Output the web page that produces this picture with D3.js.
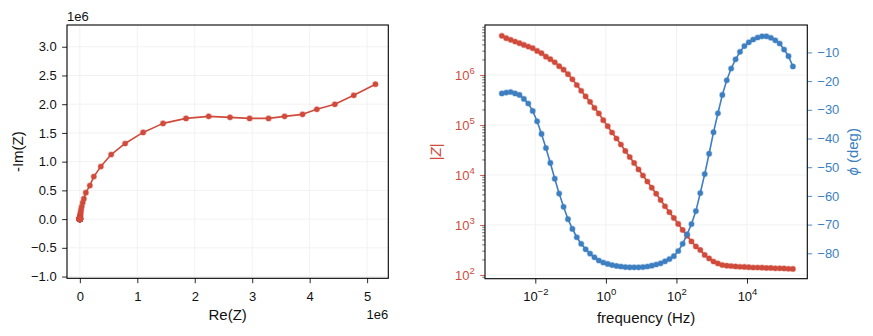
<!DOCTYPE html>
<html>
<head>
<meta charset="utf-8">
<script src="https://cdn.jsdelivr.net/npm/d3@7"></script>
<style>
  body { margin: 0; background: #fff; }
  svg { display: block; }
  text { font-family: "Liberation Sans", Arial, Helvetica, sans-serif; }
</style>
</head>
<body>
<svg id="chart" width="873" height="336"></svg>
<script>
// Measured frequencies (Hz), ascending, 8 points per decade
const frequency = [
  0.001125, 0.0015, 0.002, 0.002667, 0.003557, 0.004743, 0.006325, 0.008434,
  0.01125, 0.015, 0.02, 0.02667, 0.03557, 0.04743, 0.06325, 0.08434,
  0.1125, 0.15, 0.2, 0.2667, 0.3557, 0.4743, 0.6325, 0.8434,
  1.125, 1.5, 2, 2.667, 3.557, 4.743, 6.325, 8.434,
  11.25, 15, 20, 26.67, 35.57, 47.43, 63.25, 84.34,
  112.5, 150, 200, 266.7, 355.7, 474.3, 632.5, 843.4,
  1125, 1500, 2000, 2667, 3557, 4743, 6325, 8434,
  11247, 15000, 20000, 26670, 35566, 47427, 63246, 84339,
  112468, 149979, 200000
];

// |Z| in ohm at each frequency
const impedanceMagnitude = [
  6.07e6, 5.46e6, 5.05e6, 4.67e6, 4.33e6, 4.00e6, 3.70e6, 3.44e6, 3.03e6, 2.73e6,
  2.33e6, 2.07e6, 1.80e6, 1.50e6, 1.28e6, 1.04e6, 8.20e5, 6.30e5, 4.84e5, 3.73e5,
  2.91e5, 2.20e5, 1.70e5, 1.25e5, 9.46e4, 7.08e4, 5.37e4, 4.07e4, 3.02e4, 2.29e4,
  1.74e4, 1.29e4, 9770, 7410, 5560, 4220, 3160, 2370, 1800, 1380,
  1050, 794, 610, 468, 372, 316, 251, 214, 186, 170,
  158, 153, 151, 148, 146, 145, 143, 141, 141, 140,
  138, 138, 136, 136, 135, 133, 132
];

// Phase angle in degrees at each frequency
const phaseDeg = [
  -24.3, -24.0, -23.8, -24.3, -24.8, -26.2, -27.8, -30.4, -34.0, -38.4,
  -43.3, -48.5, -54.0, -59.2, -63.8, -68.1, -71.5, -74.4, -76.7, -78.6,
  -80.1, -81.4, -82.5, -83.2, -83.7, -84.1, -84.4, -84.6, -84.8, -84.9,
  -84.9, -84.9, -84.8, -84.6, -84.3, -83.9, -83.5, -82.8, -82.0, -81.0,
  -79.2, -76.7, -73.4, -69.8, -65.3, -59.0, -52.4, -45.3, -37.8, -31.2,
  -24.8, -19.7, -15.6, -12.4, -9.8, -7.8, -6.5, -5.5, -4.8, -4.4,
  -4.4, -4.9, -5.8, -6.9, -9.0, -11.3, -14.9
];

// Nyquist coordinates (ohm), same frequency order
const realZ = [
  5.145e6, 4.768e6, 4.438e6, 4.125e6, 3.876e6, 3.563e6, 3.285e6, 2.955e6, 2.613e6, 2.242e6,
  1.848e6, 1.448e6, 1.101e6, 7.88e5, 5.45e5, 3.65e5, 2.43e5, 1.74e5, 1.04e5, 7.0e4,
  5.0e4, 3.29e4, 2.22e4, 1.48e4, 1.04e4, 7280, 5240, 3830, 2740, 2040,
  1540, 1150, 886, 697, 552, 448, 358, 297, 250, 216,
  197, 183, 174, 162, 155, 163, 153, 150, 147, 145,
  143, 144, 145, 145, 144, 144, 142, 140, 140, 140,
  138, 137, 135, 135, 133, 130, 128
];
const negImagZ = [
  2.348e6, 2.155e6, 1.998e6, 1.911e6, 1.823e6, 1.788e6, 1.753e6, 1.753e6, 1.771e6, 1.788e6,
  1.753e6, 1.666e6, 1.509e6, 1.316e6, 1.124e6, 9.15e5, 7.40e5, 5.83e5, 4.60e5, 3.55e5,
  2.87e5, 2.18e5, 1.69e5, 1.24e5, 9.40e4, 7.04e4, 5.34e4, 4.05e4, 3.01e4, 2.28e4,
  1.73e4, 1.29e4, 9730, 7380, 5530, 4200, 3140, 2350, 1780, 1360,
  1030, 773, 585, 439, 338, 271, 199, 152, 114, 88,
  66, 52, 41, 32, 25, 20, 16, 14, 12, 11,
  11, 12, 14, 16, 21, 26, 34
];

// Tick values
const nyquistXTicks = [0, 1e6, 2e6, 3e6, 4e6, 5e6];
const nyquistYTicks = [-1.0e6, -0.5e6, 0, 0.5e6, 1.0e6, 1.5e6, 2.0e6, 2.5e6, 3.0e6];
const freqTicks = [1e-2, 1e0, 1e2, 1e4];
const magTicks = [1e2, 1e3, 1e4, 1e5, 1e6];
const phaseTicks = [-80, -70, -60, -50, -40, -30, -20, -10];

const RED = "#d04b3c";
const BLUE = "#3d7fc1";
const GRID = "#efefef";
const TICK_FS = 13;
const LABEL_FS = 15;
const TICK_LEN = 4.9;

const svg = d3.select("#chart");
svg.append("rect").attr("width", 873).attr("height", 336).attr("fill", "#fff");

const supDigits = e => (e < 0 ? "\u2212" + Math.abs(e) : String(e));
function powerLabel(sel, color) {
  sel.each(function(d) {
    const t = d3.select(this);
    const e = Math.round(Math.log10(d));
    t.text(null);
    t.append("tspan").text("10");
    t.append("tspan").attr("dy", -6).attr("font-size", 9.5).text(supDigits(e));
    if (color) t.attr("fill", color);
  });
}

// ---------------- Nyquist panel ----------------
const L = { x0: 67, x1: 388.3, y0: 25, y1: 278.3 };
{
  const w = L.x1 - L.x0, h = L.y1 - L.y0;
  const [rMin, rMax] = d3.extent(realZ);
  const [iMin, iMax] = d3.extent(negImagZ);
  const pad = 0.0435 * (rMax - rMin);
  const xDom = [rMin - pad, rMax + pad];
  const k = w / (xDom[1] - xDom[0]);           // equal aspect: same px per ohm on both axes
  const yc = (iMin + iMax) / 2, half = h / k / 2;
  const x = d3.scaleLinear().domain(xDom).range([L.x0, L.x1]);
  const y = d3.scaleLinear().domain([yc - half, yc + half]).range([L.y1, L.y0]);

  const g = svg.append("g");
  g.append("g").selectAll("line").data(nyquistXTicks).join("line")
    .attr("x1", d => x(d)).attr("x2", d => x(d)).attr("y1", L.y0).attr("y2", L.y1)
    .attr("stroke", GRID).attr("stroke-width", 0.8);
  g.append("g").selectAll("line").data(nyquistYTicks).join("line")
    .attr("y1", d => y(d)).attr("y2", d => y(d)).attr("x1", L.x0).attr("x2", L.x1)
    .attr("stroke", GRID).attr("stroke-width", 0.8);

  const xAxis = g.append("g").attr("transform", `translate(0,${L.y1})`)
    .call(d3.axisBottom(x).tickValues(nyquistXTicks).tickFormat(d => d3.format("d")(d / 1e6))
      .tickSize(TICK_LEN).tickSizeOuter(0).tickPadding(8.5));
  const yAxis = g.append("g").attr("transform", `translate(${L.x0},0)`)
    .call(d3.axisLeft(y).tickValues(nyquistYTicks).tickFormat(d => d3.format(".1f")(d / 1e6))
      .tickSize(TICK_LEN).tickSizeOuter(0).tickPadding(5.4));
  [xAxis, yAxis].forEach(a => {
    a.select(".domain").remove();
    a.selectAll("text").attr("font-size", TICK_FS).attr("fill", "#111").attr("font-family", null);
    a.selectAll("line").attr("stroke", "#111").attr("stroke-width", 0.9);
  });

  const line = d3.line().x((d, i) => x(realZ[i])).y((d, i) => y(negImagZ[i]));
  g.append("path").datum(realZ).attr("d", line)
    .attr("fill", "none").attr("stroke", RED).attr("stroke-width", 1.6).attr("stroke-linejoin", "round");
  g.append("g").selectAll("circle").data(realZ).join("circle")
    .attr("cx", d => x(d)).attr("cy", (d, i) => y(negImagZ[i])).attr("r", 2.6)
    .attr("fill", RED).attr("stroke", RED).attr("stroke-opacity", 0.35).attr("stroke-width", 1.4);

  g.append("rect").attr("x", L.x0).attr("y", L.y0).attr("width", w).attr("height", h)
    .attr("fill", "none").attr("stroke", "#000").attr("stroke-width", 1.1);

  g.append("text").attr("x", L.x0).attr("y", 20.5).attr("font-size", TICK_FS).attr("fill", "#111").text("1e6");
  g.append("text").attr("x", L.x1).attr("y", 319.3).attr("text-anchor", "end")
    .attr("font-size", TICK_FS).attr("fill", "#111").text("1e6");
  g.append("text").attr("x", (L.x0 + L.x1) / 2).attr("y", 319.5).attr("text-anchor", "middle")
    .attr("font-size", LABEL_FS).attr("fill", "#111").text("Re(Z)");
  g.append("text").attr("transform", `translate(17.5,${(L.y0 + L.y1) / 2}) rotate(-90)`)
    .attr("dy", "0.36em").attr("text-anchor", "middle")
    .attr("font-size", LABEL_FS).attr("fill", "#111").text("-Im(Z)");
}

// ---------------- Bode panel ----------------
const R = { x0: 485, x1: 807.3, y0: 25, y1: 278.7 };
{
  const w = R.x1 - R.x0, h = R.y1 - R.y0;
  const x = d3.scaleLog().domain([Math.pow(10, -3.426), Math.pow(10, 5.709)]).range([R.x0, R.x1]);
  const yMag = d3.scaleLog().domain([Math.pow(10, 1.925), Math.pow(10, 7.0)]).range([R.y1, R.y0]);
  const yPh = d3.scaleLinear().domain([-88.85, -0.45]).range([R.y1, R.y0]);

  const g = svg.append("g");
  g.append("g").selectAll("line").data(freqTicks).join("line")
    .attr("x1", d => x(d)).attr("x2", d => x(d)).attr("y1", R.y0).attr("y2", R.y1)
    .attr("stroke", GRID).attr("stroke-width", 0.8);
  g.append("g").selectAll("line").data(magTicks).join("line")
    .attr("y1", d => yMag(d)).attr("y2", d => yMag(d)).attr("x1", R.x0).attr("x2", R.x1)
    .attr("stroke", GRID).attr("stroke-width", 0.8);

  // bottom axis
  const xAxis = g.append("g").attr("transform", `translate(0,${R.y1})`)
    .call(d3.axisBottom(x).tickValues(freqTicks).tickSize(TICK_LEN).tickSizeOuter(0).tickPadding(8.5));
  xAxis.select(".domain").remove();
  xAxis.selectAll("line").attr("stroke", "#111").attr("stroke-width", 0.9);
  xAxis.selectAll("text").attr("font-size", TICK_FS).attr("fill", "#111").attr("font-family", null)
    .call(powerLabel, null);

  // left log axis: minor ticks
  const [m0, m1] = yMag.domain();
  const minor = [];
  for (let e = Math.floor(Math.log10(m0)); e <= Math.ceil(Math.log10(m1)); e++) {
    for (let s = 2; s <= 9; s++) {
      const v = s * Math.pow(10, e);
      if (v >= m0 && v <= m1) minor.push(v);
    }
  }
  g.append("g").selectAll("line").data(minor).join("line")
    .attr("x1", R.x0 - 2.8).attr("x2", R.x0).attr("y1", d => yMag(d)).attr("y2", d => yMag(d))
    .attr("stroke", "#111").attr("stroke-width", 0.6);

  const yAxisL = g.append("g").attr("transform", `translate(${R.x0},0)`)
    .call(d3.axisLeft(yMag).tickValues(magTicks).tickSize(TICK_LEN).tickSizeOuter(0).tickPadding(5.4));
  yAxisL.select(".domain").remove();
  yAxisL.selectAll("line").attr("stroke", RED).attr("stroke-width", 0.9);
  yAxisL.selectAll("text").attr("font-size", TICK_FS).attr("font-family", null).call(powerLabel, RED);

  const yAxisR = g.append("g").attr("transform", `translate(${R.x1},0)`)
    .call(d3.axisRight(yPh).tickValues(phaseTicks).tickFormat(d3.format("d"))
      .tickSize(TICK_LEN).tickSizeOuter(0).tickPadding(5.1));
  yAxisR.select(".domain").remove();
  yAxisR.selectAll("line").attr("stroke", BLUE).attr("stroke-width", 0.9);
  yAxisR.selectAll("text").attr("font-size", TICK_FS).attr("fill", BLUE).attr("font-family", null);

  // |Z| series
  const magLine = d3.line().x(d => x(d)).y((d, i) => yMag(impedanceMagnitude[i]));
  g.append("path").datum(frequency).attr("d", magLine)
    .attr("fill", "none").attr("stroke", RED).attr("stroke-width", 1.6);
  g.append("g").selectAll("circle").data(frequency).join("circle")
    .attr("cx", d => x(d)).attr("cy", (d, i) => yMag(impedanceMagnitude[i])).attr("r", 2.6)
    .attr("fill", RED).attr("stroke", RED).attr("stroke-opacity", 0.35).attr("stroke-width", 1.4);

  // phase series (twin axis, drawn on top)
  const phLine = d3.line().x(d => x(d)).y((d, i) => yPh(phaseDeg[i]));
  g.append("path").datum(frequency).attr("d", phLine)
    .attr("fill", "none").attr("stroke", BLUE).attr("stroke-width", 1.6);
  g.append("g").selectAll("circle").data(frequency).join("circle")
    .attr("cx", d => x(d)).attr("cy", (d, i) => yPh(phaseDeg[i])).attr("r", 2.6)
    .attr("fill", BLUE).attr("stroke", BLUE).attr("stroke-opacity", 0.35).attr("stroke-width", 1.4);

  g.append("rect").attr("x", R.x0).attr("y", R.y0).attr("width", w).attr("height", h)
    .attr("fill", "none").attr("stroke", "#000").attr("stroke-width", 1.1);

  g.append("text").attr("x", (R.x0 + R.x1) / 2).attr("y", 323).attr("text-anchor", "middle")
    .attr("font-size", LABEL_FS).attr("fill", "#111").text("frequency (Hz)");

  const zl = g.append("text").attr("transform", `translate(436,${(R.y0 + R.y1) / 2}) rotate(-90)`)
    .attr("dy", "0.36em").attr("text-anchor", "middle").attr("font-size", LABEL_FS).attr("fill", RED);
  zl.append("tspan").text("|");
  zl.append("tspan").attr("font-style", "italic").text("Z");
  zl.append("tspan").text("|");

  const pl = g.append("text").attr("transform", `translate(853,${(R.y0 + R.y1) / 2}) rotate(-90)`)
    .attr("dy", "0.36em").attr("text-anchor", "middle").attr("font-size", LABEL_FS).attr("fill", BLUE);
  pl.append("tspan").attr("font-style", "italic").text("\u03D5");
  pl.append("tspan").text(" (deg)");
}
</script>
</body>
</html>
